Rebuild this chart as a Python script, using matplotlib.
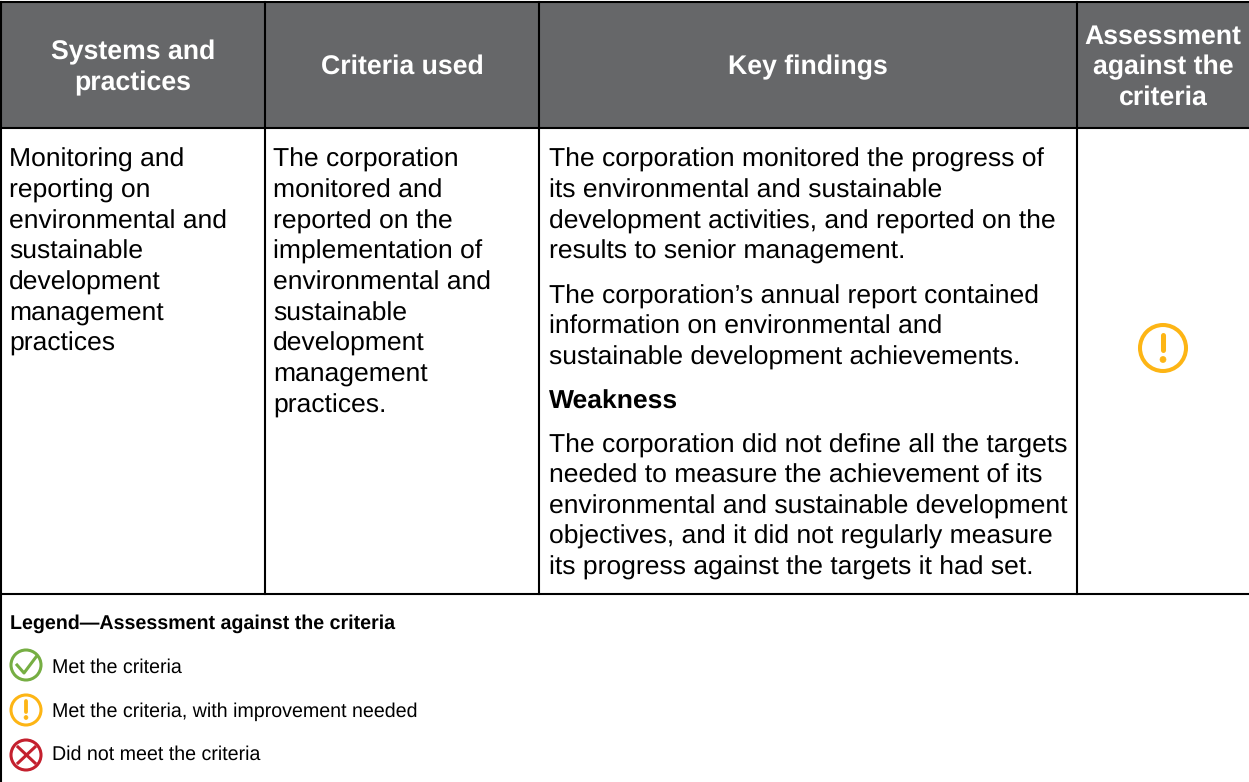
import numpy as np
import matplotlib
matplotlib.use('Agg')
import matplotlib.pyplot as plt
from matplotlib.patches import Circle, Rectangle

W, H = 1249, 782

headers = [['Systems and', 'practices'], ['Criteria used'], ['Key findings'],
           ['Assessment', 'against the', 'criteria']]
col_edges = [1, 265, 539, 1077, 1249]

systems = ['Monitoring and', 'reporting on', 'environmental and', 'sustainable',
           'development', 'management', 'practices']
criteria = ['The corporation', 'monitored and', 'reported on the', 'implementation of',
            'environmental and', 'sustainable', 'development', 'management', 'practices.']
line_y = [167, 198, 229, 259, 290, 321, 351, 382, 413]
findings = [('The corporation monitored the progress of', 167, 'normal'),
            ('its environmental and sustainable', 198, 'normal'),
            ('development activities, and reported on the', 229, 'normal'),
            ('results to senior management.', 259, 'normal'),
            ('The corporation\u2019s annual report contained', 304, 'normal'),
            ('information on environmental and', 334, 'normal'),
            ('sustainable development achievements.', 365, 'normal'),
            ('Weakness', 409, 'bold'),
            ('The corporation did not define all the targets', 453, 'normal'),
            ('needed to measure the achievement of its', 483, 'normal'),
            ('environmental and sustainable development', 514, 'normal'),
            ('objectives, and it did not regularly measure', 544, 'normal'),
            ('its progress against the targets it had set.', 575, 'normal')]
legend_title = 'Legend\u2014Assessment against the criteria'
legend_items = ['Met the criteria', 'Met the criteria, with improvement needed',
                'Did not meet the criteria']

GREEN, AMBER, RED = '#76AE43', '#FDB515', '#C4202E'
HEAD = '#666769'
FS = 19.05

plt.rcParams['font.family'] = ['Liberation Sans', 'DejaVu Sans']
plt.rcParams['text.hinting'] = 'none'
fig = plt.figure(figsize=(W / 100, H / 100), dpi=100)
ax = fig.add_axes([0, 0, 1, 1])
ax.set_xlim(0, W)
ax.set_ylim(H, 0)
ax.axis('off')


def warn_icon(x, y, r, lw):
    ax.add_patch(Circle((x, y), r, fc='white', ec=AMBER, lw=lw))
    ax.plot([x, x], [y - r * 0.58, y + r * 0.1], color=AMBER, lw=lw * 1.25, solid_capstyle='round')
    ax.add_patch(Circle((x, y + r * 0.5), r * 0.13, fc=AMBER, ec=AMBER, lw=0.5))


# header band
ax.add_patch(Rectangle((1, 2), W, 125, fc=HEAD, ec='none'))
head_y = [[59, 90], [74], [74], [44, 74, 105]]
for i, lines in enumerate(headers):
    xc = (col_edges[i] + col_edges[i + 1]) / 2
    for s, y in zip(lines, head_y[i]):
        ax.text(xc, y, s, color='white', fontsize=19.2, fontweight='bold', ha='center', va='baseline')

# grid lines
for y in [2, 127.5, 594]:
    ax.plot([0, W], [y, y], color='black', lw=1.5)
for x in col_edges[1:4]:
    ax.plot([x, x], [2, 594], color='black', lw=1.5)
ax.plot([1, 1], [2, H], color='black', lw=1.5)

# body text
for s, y in zip(systems, line_y):
    ax.text(9, y, s, fontsize=FS, va='baseline', color='black')
for s, y in zip(criteria, line_y):
    ax.text(273, y, s, fontsize=FS, va='baseline', color='black')
for s, y, w in findings:
    ax.text(549, y, s, fontsize=FS, va='baseline', fontweight=w, color='black')

warn_icon(1163, 348, 23, 2.9)

# legend
ax.text(10, 629, legend_title, fontsize=14.1, fontweight='bold', va='baseline')
for s, y in zip(legend_items, [673, 717, 760]):
    ax.text(52, y, s, fontsize=14.1, va='baseline')

ax.add_patch(Circle((26, 665), 15, fc='white', ec=GREEN, lw=2.2))
ax.plot([17, 24, 36], [665, 673, 657], color=GREEN, lw=2.2)
warn_icon(26, 710, 15, 2.2)
ax.add_patch(Circle((26, 755), 15, fc='white', ec=RED, lw=2.2))
ax.plot([18, 35], [747, 763], color=RED, lw=2.2)
ax.plot([18, 35], [763, 747], color=RED, lw=2.2)

fig.savefig('out.png', dpi=100)
